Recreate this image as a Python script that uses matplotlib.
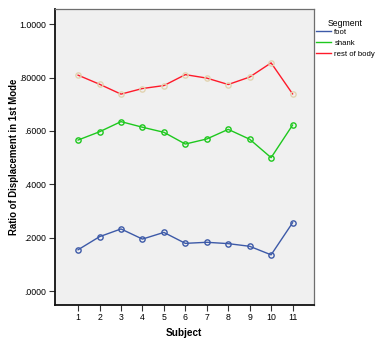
import matplotlib.pyplot as plt
from matplotlib.ticker import FixedLocator, FixedFormatter

plt.rcParams['font.family'] = ['Liberation Sans', 'DejaVu Sans']

subjects = [1, 2, 3, 4, 5, 6, 7, 8, 9, 10, 11]
foot = [0.155, 0.204, 0.233, 0.195, 0.220, 0.179, 0.183, 0.178, 0.168, 0.136, 0.256]
shank = [0.566, 0.597, 0.635, 0.614, 0.595, 0.551, 0.570, 0.606, 0.569, 0.500, 0.622]
rest_of_body = [0.809, 0.775, 0.738, 0.759, 0.770, 0.811, 0.798, 0.774, 0.802, 0.855, 0.739]

y_ticks = [0.0, 0.2, 0.4, 0.6, 0.8, 1.0]
y_labels = ['.0000', '.2000', '.4000', '.6000', '.80000', '1.0000']

fig = plt.figure(figsize=(3.79, 3.49), dpi=100)
ax = fig.add_axes([0.1438, 0.126, 0.6847, 0.8468])
ax.set_facecolor('#f0f0f0')

ax.plot(subjects, foot, color='#3d5aa8', lw=1.0, marker='o', ms=3.8,
        mfc='none', mec='#3d5aa8', mew=1.0, label='foot')
ax.plot(subjects, shank, color='#1ec81e', lw=1.0, marker='o', ms=3.8,
        mfc='none', mec='#1ec81e', mew=1.0, label='shank')
ax.plot(subjects, rest_of_body, color='#ff1a2a', lw=1.0, marker='o', ms=3.8,
        mfc='none', mec='#e2d3b0', mew=1.0, label='rest of body')

ax.set_xlim(-0.1, 12.0)
ax.set_ylim(-0.052, 1.055)
ax.set_xticks(subjects)
ax.set_xticklabels([str(s) for s in subjects])
ax.yaxis.set_major_locator(FixedLocator(y_ticks))
ax.yaxis.set_major_formatter(FixedFormatter(y_labels))
ax.tick_params(axis='both', labelsize=6.3, length=4, width=0.8, color='#333333', pad=2)

for side in ['left', 'bottom']:
    ax.spines[side].set_color('#111111')
    ax.spines[side].set_linewidth(1.3)
for side in ['top', 'right']:
    ax.spines[side].set_color('#6e6e6e')
    ax.spines[side].set_linewidth(0.9)

ax.set_xlabel('Subject', fontsize=7.2, fontweight='bold')
ax.set_ylabel('Ratio of Displacement in 1st Mode', fontsize=6.9, fontweight='bold')
ax.xaxis.set_label_coords(0.5, -0.078)
ax.yaxis.set_label_coords(-0.135, 0.5)

leg = fig.legend(loc='upper left', bbox_to_anchor=(0.829, 0.958), frameon=False,
                 title='Segment', fontsize=5.6, title_fontsize=6.2,
                 handlelength=2.0, handletextpad=0.4, labelspacing=0.45,
                 borderaxespad=0.0, borderpad=0.2)
leg.get_title().set_position((0, -3))
for h in leg.legend_handles:
    h.set_marker('')

fig.savefig('out.png', dpi=100)
